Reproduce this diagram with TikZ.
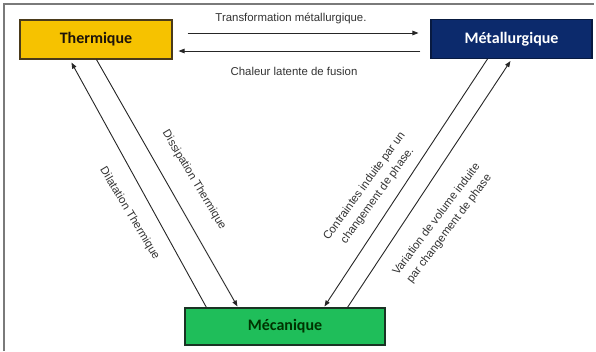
\documentclass[tikz,border=0pt]{standalone}
\usepackage{fontspec}
\setmainfont{Liberation Sans}
\newfontfamily\boxfont{Carlito}
\usetikzlibrary{arrows.meta,calc}
\definecolor{thfill}{HTML}{F6C200}
\definecolor{thdraw}{HTML}{4A3A1A}
\definecolor{mefill}{HTML}{0C2A6C}
\definecolor{medraw}{HTML}{081A40}
\definecolor{mcfill}{HTML}{1FBE5A}
\definecolor{mcdraw}{HTML}{1A3324}
\definecolor{lblcol}{HTML}{333333}
\definecolor{framecol}{HTML}{7A7A7A}
\tikzset{
  dombox/.style={draw, line width=1.1pt, minimum height=39pt, inner sep=0pt,
    font=\boxfont\bfseries\fontsize{16}{18}\selectfont},
  arr/.style={line width=0.9pt, draw=black!85, -{Triangle[length=6pt,width=4.5pt]}},
  lbltext/.style={text=lblcol, font=\fontsize{11.4}{16}\selectfont, inner sep=0pt, align=center}
}
\begin{document}
\begin{tikzpicture}[x=1pt,y=-1pt]
\useasboundingbox[fill=white] (0,0) rectangle (596,351);
\draw[draw=framecol, line width=1.2pt] (4,351) -- (4,4) -- (594,4);

\node[dombox, fill=thfill, draw=thdraw, text=black!85!brown, minimum width=152pt] (th) at (96,39.5) {Thermique};
\node[dombox, fill=mefill, draw=medraw, text=white, minimum width=161pt] (met) at (511.5,39) {Métallurgique};
\node[dombox, fill=mcfill, draw=mcdraw, text=black!80!green, minimum width=200pt, minimum height=37pt] (mec) at (285,326.5) {Mécanique};

% horizontal arrows
\draw[arr] ($(th.east)+(15,-6.5)$) -- ($(met.west)+(-12,-6)$);
\draw[arr] ($(met.west)+(-10,12)$) -- ($(th.east)+(6,11.5)$);
\node[lbltext] (t1) at (291,18) {Transformation métallurgique.};
\node[lbltext] (t2) at (294,71) {Chaleur latente de fusion};

% left arrows
\draw[arr] ($(mec.north west)+(22,0)$) -- ($(th.south west)+(52,3)$);
\draw[arr] ($(th.south west)+(77,0)$) -- ($(mec.north west)+(53,-1)$);
\node[lbltext, rotate=-59] (l1) at (129.5,213.5) {Dilatation Thermique};
\node[lbltext, rotate=-59] (l2) at (194,180) {Dissipation Thermique};

% right arrows
\draw[arr] ($(met.south west)+(57,0)$) -- ($(mec.north west)+(140,-1)$);
\draw[arr] ($(mec.north west)+(163,0)$) -- ($(met.south west)+(80,2)$);
\node[lbltext, rotate=54] (r1) at (371,191) {Contraintes induite par un\\changement de phase.};
\node[lbltext, rotate=53] (r2) at (443,224) {Variation de volume induite\\par changement de phase};
\end{tikzpicture}
\end{document}
